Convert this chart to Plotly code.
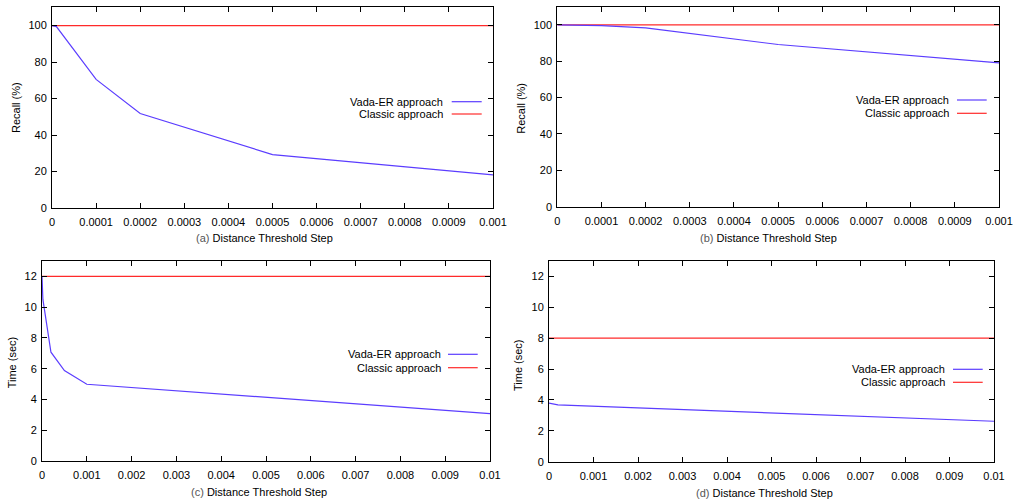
import plotly.graph_objects as go

# ---------------- data ----------------
# (a) Recall vs distance threshold step (fine range)
a_x = [0, 0.00001, 0.0001, 0.0002, 0.0005, 0.001]
a_vada = [100, 99.4, 70.5, 51.8, 29.3, 18.2]
a_classic_x = [0, 0.001]
a_classic = [100, 100]

# (b) Recall vs distance threshold step (fine range)
b_x = [0, 0.0001, 0.0002, 0.0005, 0.001]
b_vada = [100, 99.6, 98.3, 89.2, 79.1]
b_classic_x = [0, 0.001]
b_classic = [100, 100]

# (c) Time vs distance threshold step (coarse range)
c_x = [0, 0.00002, 0.0002, 0.0005, 0.001, 0.01]
c_vada = [12.0, 10.5, 7.07, 5.88, 4.99, 3.08]
c_classic_x = [0, 0.01]
c_classic = [12, 12]

# (d) Time vs distance threshold step (coarse range)
d_x = [0, 0.0002, 0.01]
d_vada = [3.8, 3.68, 2.62]
d_classic_x = [0, 0.01]
d_classic = [8, 8]

fine_ticks = [0, 0.0001, 0.0002, 0.0003, 0.0004, 0.0005, 0.0006, 0.0007, 0.0008, 0.0009, 0.001]
fine_labels = ["0", "0.0001", "0.0002", "0.0003", "0.0004", "0.0005", "0.0006", "0.0007", "0.0008", "0.0009", "0.001"]
coarse_ticks = [0, 0.001, 0.002, 0.003, 0.004, 0.005, 0.006, 0.007, 0.008, 0.009, 0.01]
coarse_labels = ["0", "0.001", "0.002", "0.003", "0.004", "0.005", "0.006", "0.007", "0.008", "0.009", "0.01"]
recall_ticks = [0, 20, 40, 60, 80, 100]
time_ticks = [0, 2, 4, 6, 8, 10, 12]

series_names = ["Vada-ER approach", "Classic approach"]
panel_letters = ["(a)", "(b)", "(c)", "(d)"]
x_title = "Distance Threshold Step"
y_titles = ["Recall (%)", "Recall (%)", "Time (sec)", "Time (sec)"]

# ---------------- styling / layout ----------------
W, H = 1013, 502
BLUE = "#5b3dff"
RED = "#ff2a2a"
FONT = "Liberation Sans, Arial, Helvetica, sans-serif"

# plot areas in pixels: (left, right, top, bottom)
areas = [
    (52, 493, 7.3, 208),
    (557.3, 999, 6.7, 206.7),
    (42, 490, 261, 461),
    (549, 994, 261, 461.7),
]
# legend: (text right x, line x0, line x1, row1 y, row2 y)
legends = [
    (445, 451.7, 481.7, 101.7, 114.0),
    (950.7, 957, 986.7, 100.0, 113.3),
    (443, 448, 477.7, 354.3, 367.7),
    (946.7, 953, 982.7, 369.3, 382.3),
]
# x-title centers and y-title centers
xt_pos = [(264, 238), (768, 238), (259, 492), (764, 493)]
yt_pos = [(16, 107), (520.7, 108), (12.3, 362), (518, 365)]

def px(x):
    return x / W

def py(y):
    return 1 - y / H

fig = go.Figure()

panels = [
    (a_x, a_vada, a_classic_x, a_classic, fine_ticks, fine_labels, [0, 0.001], recall_ticks, [0, 110]),
    (b_x, b_vada, b_classic_x, b_classic, fine_ticks, fine_labels, [0, 0.001], recall_ticks, [0, 110]),
    (c_x, c_vada, c_classic_x, c_classic, coarse_ticks, coarse_labels, [0, 0.01], time_ticks, [0, 13]),
    (d_x, d_vada, d_classic_x, d_classic, coarse_ticks, coarse_labels, [0, 0.01], time_ticks, [0, 13]),
]

annotations = []
shapes = []
for i, (vx, vy, cx, cy, xt, xl, xr, yt, yr) in enumerate(panels):
    n = "" if i == 0 else str(i + 1)
    xa, ya = "x" + n, "y" + n
    l, r, t, b = areas[i]
    fig.add_trace(go.Scatter(x=cx, y=cy, mode="lines", name=series_names[1],
                             line=dict(color=RED, width=1.2), xaxis=xa, yaxis=ya, showlegend=False))
    fig.add_trace(go.Scatter(x=vx, y=vy, mode="lines", name=series_names[0],
                             line=dict(color=BLUE, width=1.2), xaxis=xa, yaxis=ya, showlegend=False))
    axis_common = dict(showline=True, linecolor="black", linewidth=1, mirror="allticks",
                       ticks="inside", ticklen=5, tickwidth=1, tickcolor="black",
                       showgrid=False, zeroline=False, automargin=False,
                       tickfont=dict(family=FONT, size=11, color="black"))
    fig.update_layout(**{
        "xaxis" + n: dict(domain=[px(l), px(r)], range=xr, tickvals=xt, ticktext=xl,
                          anchor=ya, ticklabelstandoff=4, **axis_common),
        "yaxis" + n: dict(domain=[py(b), py(t)], range=yr, tickvals=yt, anchor=xa,
                          ticklabelstandoff=2, **axis_common),
    })
    # legend text + sample lines
    tx, lx0, lx1, r1, r2 = legends[i]
    for name, yy, col in [(series_names[0], r1, BLUE), (series_names[1], r2, RED)]:
        annotations.append(dict(x=px(tx), y=py(yy), xref="paper", yref="paper", text=name,
                                showarrow=False, xanchor="right", yanchor="middle",
                                font=dict(family=FONT, size=11, color="black")))
        shapes.append(dict(type="line", xref="paper", yref="paper", x0=px(lx0), x1=px(lx1),
                           y0=py(yy), y1=py(yy), line=dict(color=col, width=1.2)))
    # axis titles
    cxp, cyp = xt_pos[i]
    annotations.append(dict(x=px(cxp), y=py(cyp), xref="paper", yref="paper",
                            text="<span style='color:#555555'>" + panel_letters[i] + "</span> " + x_title,
                            showarrow=False, xanchor="center", yanchor="middle",
                            font=dict(family=FONT, size=11, color="black")))
    yx, yyc = yt_pos[i]
    annotations.append(dict(x=px(yx), y=py(yyc), xref="paper", yref="paper", text=y_titles[i],
                            showarrow=False, textangle=-90, xanchor="center", yanchor="middle",
                            font=dict(family=FONT, size=11, color="black")))

fig.update_layout(width=W, height=H, margin=dict(l=0, r=0, t=0, b=0, autoexpand=False),
                  paper_bgcolor="white", plot_bgcolor="white", showlegend=False,
                  hovermode=False,
                  annotations=annotations, shapes=shapes)

fig.write_html("out.html", config={"displayModeBar": False, "staticPlot": True},
               post_script="document.body.style.margin='0';document.body.style.overflow='hidden';")
